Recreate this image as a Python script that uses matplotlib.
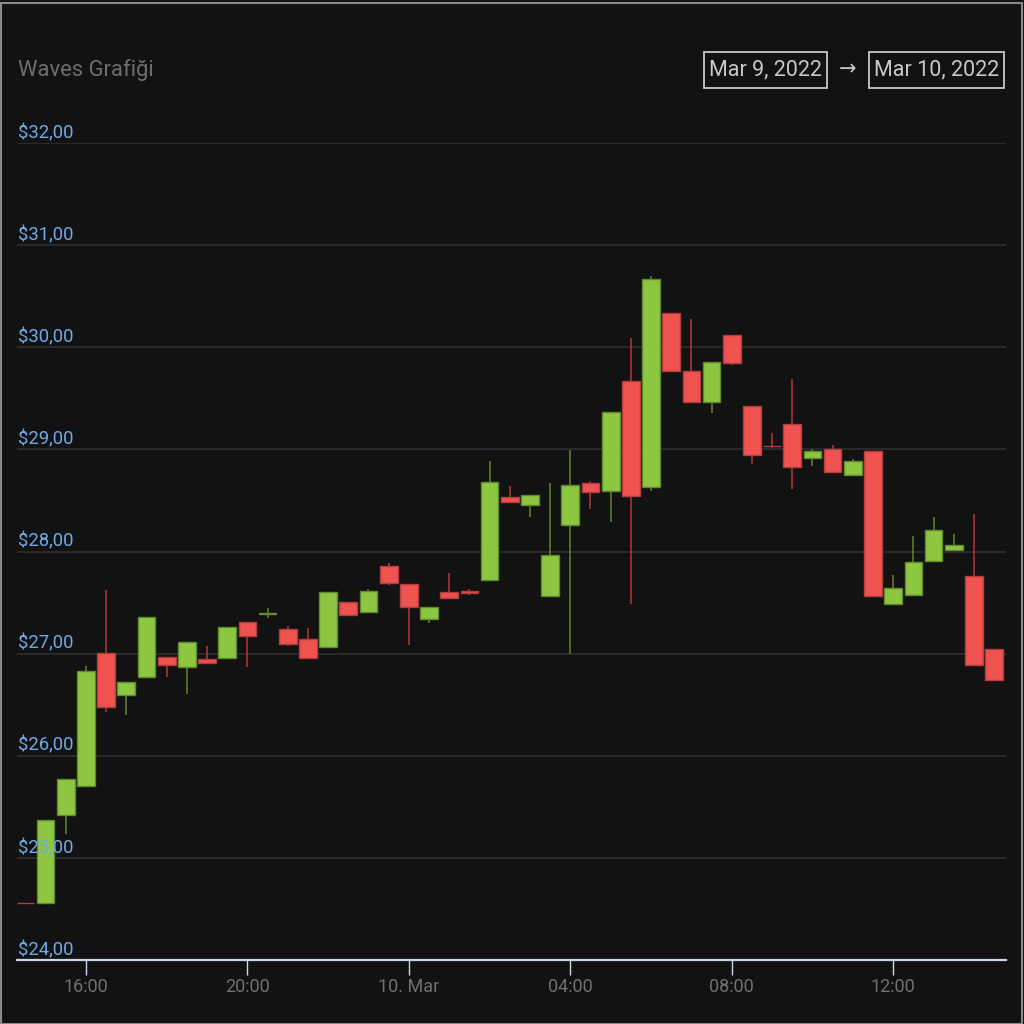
import matplotlib
matplotlib.use("Agg")
import matplotlib.pyplot as plt
import matplotlib.dates as mdates
from matplotlib.patches import Rectangle
import pandas as pd
import numpy as np

plt.rcParams['font.family'] = ['Roboto', 'DejaVu Sans']

# ---- data ----
start_time = "2022-03-09 14:30"
n_candles = 49
opens = [24.555, 24.555, 25.42, 25.70, 27.01, 26.59, 26.775, 26.965, 26.87, 26.95,
         26.96, 27.31, 27.39, 27.245, 27.147, 27.06, 27.51, 27.41, 27.86, 27.68,
         27.34, 27.60, 27.614, 27.725, 28.53, 28.46, 27.56, 28.257, 28.67, 28.59,
         29.67, 28.63, 30.34, 29.77, 29.465, 30.12, 29.42, 29.034, 29.25, 28.914,
         29.00, 28.747, 28.985, 27.49, 27.575, 27.91, 28.01, 27.764, 27.046]
highs = [24.555, 25.374, 25.776, 26.88, 27.62, 26.726, 27.36, 26.965, 27.11, 27.07,
         27.26, 27.31, 27.45, 27.27, 27.25, 27.60, 27.51, 27.63, 27.885, 27.68,
         27.46, 27.79, 27.63, 28.89, 28.64, 28.55, 28.67, 28.99, 28.69, 29.37,
         30.09, 30.70, 30.34, 30.28, 29.855, 30.12, 29.42, 29.16, 29.69, 29.005,
         29.04, 28.907, 28.985, 27.77, 28.15, 28.34, 28.17, 28.37, 27.046]
lows = [24.555, 24.555, 25.234, 25.70, 26.43, 26.40, 26.775, 26.77, 26.60, 26.91,
        26.96, 26.87, 27.35, 27.07, 26.958, 27.06, 27.375, 27.41, 27.67, 27.085,
        27.30, 27.54, 27.57, 27.725, 28.48, 28.34, 27.56, 27.00, 28.42, 28.29,
        27.49, 28.59, 29.77, 29.465, 29.36, 29.83, 28.86, 29.01, 28.61, 28.84,
        28.776, 28.747, 27.56, 27.49, 27.575, 27.91, 28.01, 26.89, 26.74]
closes = [24.555, 25.374, 25.776, 26.83, 26.475, 26.726, 27.36, 26.89, 27.11, 26.91,
          27.26, 27.17, 27.40, 27.09, 26.958, 27.60, 27.375, 27.614, 27.69, 27.457,
          27.46, 27.54, 27.594, 28.685, 28.48, 28.55, 27.967, 28.65, 28.58, 29.37,
          28.545, 30.67, 29.77, 29.465, 29.855, 29.85, 28.946, 29.034, 28.83, 28.985,
          28.776, 28.885, 27.56, 27.646, 27.90, 28.215, 28.065, 26.89, 26.74]
y_ticks = [24, 25, 26, 27, 28, 29, 30, 31, 32]
y_tick_labels = ["$24,00", "$25,00", "$26,00", "$27,00", "$28,00", "$29,00",
                 "$30,00", "$31,00", "$32,00"]
x_tick_times = ["2022-03-09 16:00", "2022-03-09 20:00", "2022-03-10 00:00",
                "2022-03-10 04:00", "2022-03-10 08:00", "2022-03-10 12:00"]
x_tick_labels = ["16:00", "20:00", "10. Mar", "04:00", "08:00", "12:00"]
title = "Waves Grafiği"
date_from = "Mar 9, 2022"
date_to = "Mar 10, 2022"

# ---- style ----
BG = "#121212"
UP = "#8dc641"
UP_EDGE = "#5f8a2c"
UP_WICK = "#5a7d2a"
DOWN = "#ef5350"
DOWN_EDGE = "#b33d3d"
DOWN_WICK = "#a83636"
GRID = "#2e2e2e"
YLAB = "#6faae6"
XLAB = "#707070"
AXIS = "#ccd6eb"

times = pd.date_range(start_time, periods=n_candles, freq="30min")
o = np.array(opens); h = np.array(highs); l = np.array(lows); c = np.array(closes)
up = c > o

W, H = 1024, 1024
fig = plt.figure(figsize=(W / 100, H / 100), dpi=100, facecolor=BG)
ax = fig.add_axes([17 / W, 64 / H, (1006 - 17) / W, (960 - 143) / H])
ax.set_facecolor(BG)

# grid
for v in y_ticks:
    ax.axhline(v, color=GRID, lw=1.2, zorder=0)

# wicks
ax.vlines(times, l, h, colors=[UP_WICK if u else DOWN_WICK for u in up],
          lw=1.2, zorder=2)
# bodies
width = pd.Timedelta(minutes=26.3) / pd.Timedelta(days=1)
ax.bar(times, np.abs(c - o), bottom=np.minimum(o, c), width=width,
       color=[UP if u else DOWN for u in up],
       edgecolor=[UP_EDGE if u else DOWN_EDGE for u in up],
       linewidth=1.0, zorder=3)

ax.set_ylim(y_ticks[0], y_ticks[-1])
ax.set_xlim(mdates.date2num(times[0] - pd.Timedelta(minutes=12.5)),
            mdates.date2num(times[-1] + pd.Timedelta(minutes=17.7)))

for s in ["top", "right", "left"]:
    ax.spines[s].set_visible(False)
ax.spines["bottom"].set_color(AXIS)
ax.spines["bottom"].set_linewidth(1.6)
ax.spines["bottom"].set_zorder(5)

ax.set_yticks([])
ax.set_xticks(mdates.date2num(pd.to_datetime(x_tick_times)))
ax.set_xticklabels(x_tick_labels)
ax.tick_params(axis="x", colors=AXIS, length=11, width=1.0, pad=2,
               labelsize=13, labelcolor=XLAB)

for v, lab in zip(y_ticks, y_tick_labels):
    ax.annotate(lab, xy=(0, v), xycoords=ax.get_yaxis_transform(),
                xytext=(1, 1), textcoords="offset pixels",
                ha="left", va="bottom", fontsize=13.3, color=YLAB,
                annotation_clip=False)

# title
fig.text(18 / W, 1 - 70 / H, title, ha="left", va="center", fontsize=15.8,
         color="#6e6e6e")

# date range boxes
BOX = "#c8c8c8"
for (x0, x1), txt in [((704, 827), date_from), ((869, 1004), date_to)]:
    fig.patches.append(Rectangle((x0 / W, 1 - 88 / H), (x1 - x0) / W, 36 / H,
                                 transform=fig.transFigure, fill=False,
                                 edgecolor=BOX, lw=1.3))
    fig.text((x0 + x1) / 2 / W, 1 - 70 / H, txt, ha="center", va="center",
             fontsize=15.5, color=BOX)
fig.text(848 / W, 1 - 70 / H, "→", ha="center", va="center", fontsize=15,
         color=BOX)

# figure frame
fig.patches.append(Rectangle((0.5 / W, 0.5 / H), 1 - 3 / W, 1 - 3 / H,
                             transform=fig.transFigure, fill=False,
                             edgecolor="#8a8a8a", lw=1.5))

fig.savefig("out.png", dpi=100, facecolor=BG)
